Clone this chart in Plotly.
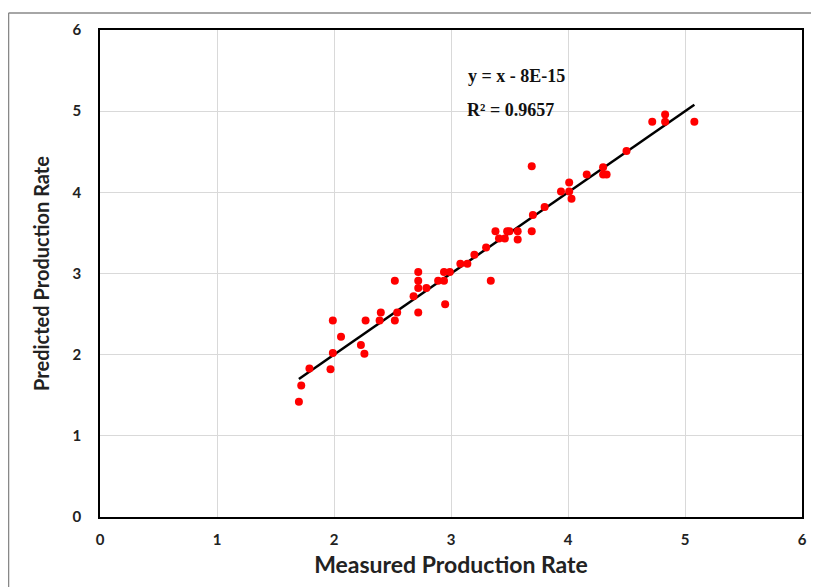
import plotly.graph_objects as go

measured = [1.70, 1.72, 1.79, 1.97, 1.99, 1.99, 2.06, 2.23, 2.26, 2.27, 2.39, 2.40, 2.52, 2.54,
            2.52, 2.68, 2.72, 2.72, 2.72, 2.72, 2.79, 2.89, 2.94, 2.94, 2.95, 2.99, 3.08, 3.14,
            3.20, 3.30, 3.34, 3.38, 3.41, 3.46, 3.48, 3.50, 3.57, 3.57, 3.69, 3.70, 3.69, 3.80,
            3.94, 4.01, 4.01, 4.03, 4.16, 4.30, 4.30, 4.33, 4.50, 4.72, 4.83, 4.83, 5.08]
predicted = [1.42, 1.62, 1.83, 1.82, 2.02, 2.42, 2.22, 2.12, 2.01, 2.42, 2.42, 2.52, 2.42, 2.52,
             2.91, 2.72, 3.02, 2.91, 2.82, 2.52, 2.82, 2.91, 2.91, 3.02, 2.62, 3.02, 3.12, 3.12,
             3.23, 3.32, 2.91, 3.52, 3.43, 3.43, 3.52, 3.52, 3.52, 3.42, 3.52, 3.72, 4.32, 3.82,
             4.01, 4.12, 4.01, 3.92, 4.22, 4.31, 4.22, 4.22, 4.51, 4.87, 4.96, 4.87, 4.87]

slope = 1.0
intercept = -8e-15
r_squared = 0.9657
equation_text = "y = x - 8E-15"
r2_text = "R² = 0.9657"

x_title = "Measured Production Rate"
y_title = "Predicted Production Rate"
ticks = [0, 1, 2, 3, 4, 5, 6]
tick_labels = ["0", "1", "2", "3", "4", "5", "6"]

x_line = [min(measured), max(measured)]
y_line = [slope * v + intercept for v in x_line]

fig = go.Figure()
fig.add_trace(go.Scatter(x=x_line, y=y_line, mode="lines",
                         line=dict(color="black", width=2.5), showlegend=False))
fig.add_trace(go.Scatter(x=measured, y=predicted, mode="markers",
                         marker=dict(color="#ff0000", size=8, line=dict(width=0)),
                         showlegend=False))

bold_ticks = ["<b>" + t + "</b>" for t in tick_labels]
tick_font = dict(family="Lato, Open Sans, sans-serif", size=15, color="#222")
fig.update_xaxes(range=[0, 6], tickvals=ticks, ticktext=bold_ticks, showgrid=True,
                 gridcolor="#d9d9d9", gridwidth=1,
                 zeroline=False, showline=True, linecolor="black", linewidth=1.5, mirror=True,
                 tickfont=tick_font, ticks="", ticklabelstandoff=8,
                 title=dict(text="<b>" + x_title + "</b>",
                            font=dict(family="Lato, Open Sans, sans-serif", size=23, color="#222"),
                            standoff=10))
fig.update_yaxes(range=[0, 6], tickvals=ticks, ticktext=bold_ticks, showgrid=True,
                 gridcolor="#d9d9d9", gridwidth=1,
                 zeroline=False, showline=True, linecolor="black", linewidth=1.5, mirror=True,
                 tickfont=tick_font, ticks="", ticklabelstandoff=14,
                 title=dict(text="<b>" + y_title + "</b>",
                            font=dict(family="Lato, Open Sans, sans-serif", size=20, color="#222"),
                            standoff=18))

fig.update_layout(
    width=811, height=579,
    margin=dict(l=92, r=13, t=19, b=70),
    paper_bgcolor="white", plot_bgcolor="white",
    annotations=[
        dict(x=3.56, y=5.43, xref="x", yref="y", text="<b>" + equation_text + "</b>",
             showarrow=False, font=dict(family="Liberation Serif", size=18, color="#111")),
        dict(x=3.51, y=5.01, xref="x", yref="y", text="<b>" + r2_text + "</b>",
             showarrow=False, font=dict(family="Liberation Serif", size=18, color="#111")),
    ],
    shapes=[
        dict(type="line", xref="paper", yref="paper", x0=-0.1303, x1=-0.1303, y0=-0.2, y1=1.0347,
             line=dict(color="#888", width=1.5)),
        dict(type="line", xref="paper", yref="paper", x0=-0.1303, x1=1.03, y0=1.0347, y1=1.0347,
             line=dict(color="#888", width=1.5)),
    ],
)

fig.write_html("out.html")
